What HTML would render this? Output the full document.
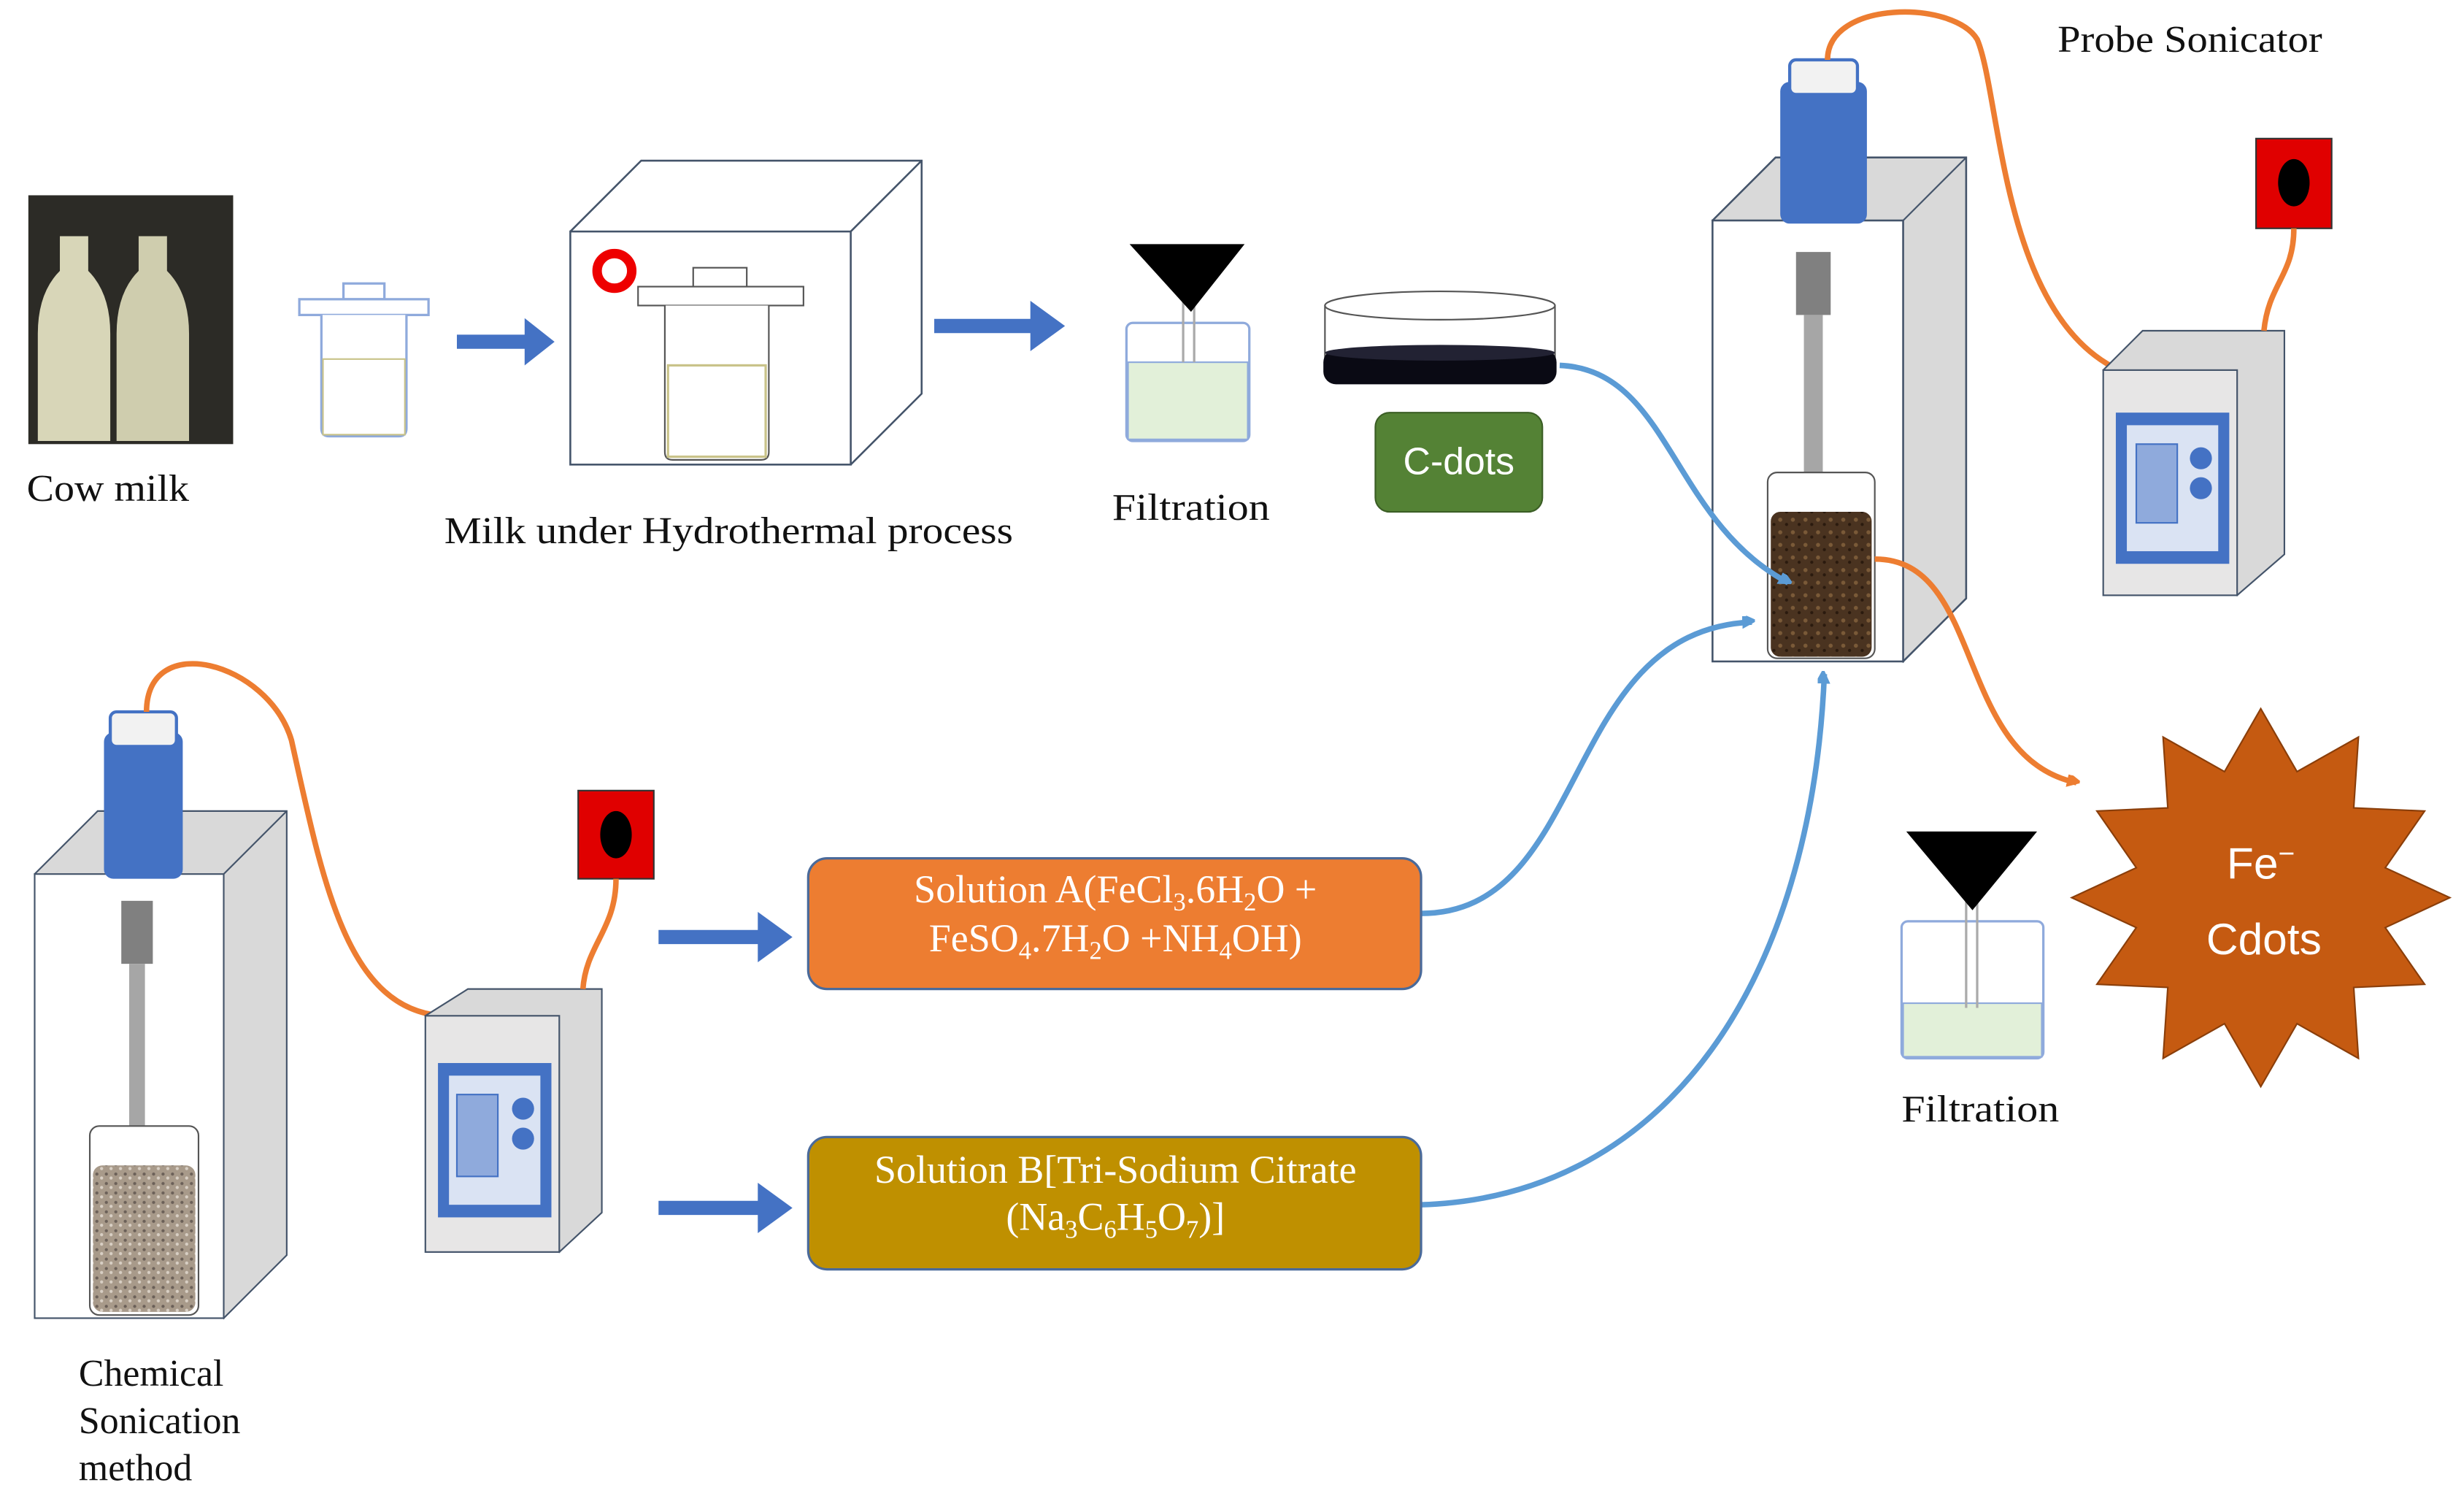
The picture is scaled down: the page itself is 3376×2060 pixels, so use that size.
<!DOCTYPE html>
<html><head><meta charset="utf-8"><style>html,body{margin:0;padding:0;background:#fff}svg{display:block}</style></head>
<body>
<svg width="3376" height="2060" viewBox="0 0 1564 955" preserveAspectRatio="none" xmlns="http://www.w3.org/2000/svg" font-family="Liberation Serif, serif">
<defs>
<marker id="ab" markerWidth="8" markerHeight="8" refX="6" refY="4" orient="auto" markerUnits="userSpaceOnUse"><path d="M0,0 L8,4 L0,8 z" fill="#5B9BD5" transform="scale(1.6) translate(-2,-2)"/></marker>
<marker id="ao" markerWidth="8" markerHeight="8" refX="6" refY="4" orient="auto" markerUnits="userSpaceOnUse"><path d="M0,0 L8,4 L0,8 z" fill="#ED7D31" transform="scale(1.6) translate(-2,-2)"/></marker>
<pattern id="grain" width="6" height="6" patternUnits="userSpaceOnUse"><rect width="6" height="6" fill="#a89a8a"/><circle cx="1.5" cy="1.5" r="1" fill="#6b6058"/><circle cx="4.5" cy="4" r="1" fill="#d8cfc4"/></pattern>
<pattern id="brown" width="8" height="8" patternUnits="userSpaceOnUse"><rect width="8" height="8" fill="#4a3320"/><circle cx="2" cy="2" r="1.3" fill="#7a5a38"/><circle cx="6" cy="5" r="1" fill="#2a1a0e"/></pattern>
</defs>

<!-- Cow milk photo -->
<rect x="18" y="124" width="130" height="158" fill="#2c2b26"/>
<path d="M38,150 h18 v22 q14,14 14,40 v68 h-46 v-68 q0,-26 14,-40 z" fill="#d8d6b8"/>
<path d="M88,150 h18 v22 q14,14 14,40 v68 h-46 v-68 q0,-26 14,-40 z" fill="#cfcdae"/>
<text x="17" y="318" font-size="24" fill="#111" textLength="103" lengthAdjust="spacingAndGlyphs">Cow milk</text>

<!-- small beaker -->
<rect x="218" y="180" width="26" height="10" fill="#fff" stroke="#8FAADC" stroke-width="1.5"/>
<rect x="190" y="190" width="82" height="10" fill="#fff" stroke="#8FAADC" stroke-width="1.5"/>
<path d="M204,200 v72 q0,5 5,5 h44 q5,0 5,-5 v-72" fill="#fff" stroke="#8FAADC" stroke-width="1.5"/>
<rect x="205" y="228" width="52" height="48" fill="#fff" stroke="#c9c38a"/>
<path d="M290,217 h45" stroke="#4472C4" stroke-width="9"/><path d="M333,202 L352,217 L333,232z" fill="#4472C4"/>

<!-- hydrothermal box -->
<path d="M362,147 L407,102 L585,102 L585,250 L540,295" fill="#fff" stroke="#44546A" stroke-width="1.2"/>
<path d="M540,147 L585,102" stroke="#44546A" stroke-width="1.2"/>
<rect x="362" y="147" width="178" height="148" fill="#fff" stroke="#44546A" stroke-width="1.2"/>
<circle cx="390" cy="172" r="11" fill="none" stroke="#e00" stroke-width="6"/>
<rect x="440" y="170" width="34" height="12" fill="#fff" stroke="#555"/>
<rect x="405" y="182" width="105" height="12" fill="#fff" stroke="#555"/>
<path d="M422,194 v93 q0,5 5,5 h56 q5,0 5,-5 v-93" fill="#fff" stroke="#555"/>
<rect x="424" y="232" width="62" height="58" fill="#fff" stroke="#c9c38a" stroke-width="1.5"/>
<text x="282" y="345" font-size="24" fill="#111" textLength="361" lengthAdjust="spacingAndGlyphs">Milk under Hydrothermal process</text>
<path d="M593,207 h62" stroke="#4472C4" stroke-width="9"/><path d="M654,191 L676,207 L654,223z" fill="#4472C4"/>

<!-- filtration 1 -->
<rect x="715" y="205" width="78" height="75" rx="4" fill="#fff" stroke="#8FAADC" stroke-width="1.5"/>
<rect x="716" y="230" width="76" height="49" fill="#E2F0D9" stroke="#8FAADC"/>
<path d="M751,190 v40 M758,190 v40" stroke="#aaa" stroke-width="1.5"/>
<path d="M717,155 L790,155 L756,198 z" fill="#000"/>
<text x="706" y="330" font-size="24" fill="#111" textLength="100" lengthAdjust="spacingAndGlyphs">Filtration</text>

<!-- petri -->
<ellipse cx="914" cy="194" rx="73" ry="9" fill="#fff" stroke="#555"/>
<path d="M841,194 v42 M987,194 v42" stroke="#555"/>
<rect x="840" y="222" width="148" height="22" rx="8" fill="#0a0a14"/>
<ellipse cx="914" cy="224" rx="73" ry="5" fill="#223"/>
<rect x="873" y="262" width="106" height="63" rx="9" fill="#548235" stroke="#3b5e25"/>
<text x="926" y="301" font-size="24" fill="#fff" text-anchor="middle" font-family="Liberation Sans, sans-serif">C-dots</text>

<!-- right big cube -->
<path d="M1087,140 L1127,100 L1248,100 L1248,380 L1208,420 z" fill="#D9D9D9" stroke="#44546A" stroke-width="1.2"/>
<path d="M1208,140 L1248,100" stroke="#44546A"/>
<rect x="1087" y="140" width="121" height="280" fill="#fff" stroke="#44546A" stroke-width="1.2"/>
<rect x="1130" y="52" width="55" height="90" rx="6" fill="#4472C4"/>
<rect x="1136" y="38" width="43" height="22" rx="4" fill="#f2f2f2" stroke="#4472C4" stroke-width="2"/>
<rect x="1140" y="160" width="22" height="40" fill="#808080"/>
<rect x="1145" y="200" width="12" height="110" fill="#a6a6a6"/>
<rect x="1122" y="300" width="68" height="118" rx="6" fill="#fff" stroke="#555"/>
<rect x="1124" y="325" width="64" height="92" rx="6" fill="url(#brown)"/>
<path d="M1160,38 C1160,0 1240,0 1255,25 C1270,60 1270,200 1345,235" fill="none" stroke="#ED7D31" stroke-width="3.5"/>
<text x="1306" y="33" font-size="24" fill="#111" textLength="168" lengthAdjust="spacingAndGlyphs">Probe Sonicator</text>

<!-- right controller -->
<path d="M1335,235 L1360,210 L1450,210 L1450,352 L1420,378z" fill="#D9D9D9" stroke="#44546A"/>
<rect x="1335" y="235" width="85" height="143" fill="#E7E6E6" stroke="#44546A"/>
<rect x="1343" y="262" width="72" height="96" fill="#4472C4"/>
<rect x="1350" y="270" width="58" height="80" fill="#DAE3F3"/>
<rect x="1356" y="282" width="26" height="50" fill="#8FAADC" stroke="#4472C4"/>
<circle cx="1397" cy="291" r="7" fill="#4472C4"/><circle cx="1397" cy="310" r="7" fill="#4472C4"/>
<rect x="1432" y="88" width="48" height="57" fill="#e00000" stroke="#333"/>
<ellipse cx="1456" cy="116" rx="10" ry="15" fill="#000"/>
<path d="M1456,145 C1456,175 1440,180 1437,210" fill="none" stroke="#ED7D31" stroke-width="3.5"/>

<!-- connectors -->
<path d="M990,232 C1060,235 1060,330 1135,370" fill="none" stroke="#5B9BD5" stroke-width="3.5" marker-end="url(#ab)"/>
<path d="M1190,355 C1260,355 1240,480 1318,497" fill="none" stroke="#ED7D31" stroke-width="3.5" marker-end="url(#ao)"/>
<path d="M902,580 C1010,580 990,400 1112,395" fill="none" stroke="#5B9BD5" stroke-width="3.5" marker-end="url(#ab)"/>
<path d="M902,765 C1060,760 1150,620 1158,428" fill="none" stroke="#5B9BD5" stroke-width="3.5" marker-end="url(#ab)"/>

<!-- star -->
<polygon fill="#C55A11" stroke="#8a3e0a" points="1435,450 1458,490 1497,468 1494,513 1539,515 1514,551 1555,570 1514,589 1539,625 1494,627 1497,672 1458,650 1435,690 1412,650 1373,672 1376,627 1331,625 1356,589 1315,570 1356,551 1331,515 1376,513 1373,468 1412,490"/>
<text x="1435" y="558" font-size="28" fill="#fff" text-anchor="middle" font-family="Liberation Sans, sans-serif">Fe<tspan font-size="18" dy="-10">−</tspan></text>
<text x="1437" y="606" font-size="28" fill="#fff" text-anchor="middle" font-family="Liberation Sans, sans-serif">Cdots</text>

<!-- filtration 2 -->
<rect x="1207" y="585" width="90" height="87" rx="4" fill="#fff" stroke="#8FAADC" stroke-width="1.5"/>
<rect x="1208" y="637" width="88" height="34" fill="#E2F0D9" stroke="#8FAADC"/>
<path d="M1248,570 v70 M1255,570 v70" stroke="#aaa" stroke-width="1.5"/>
<path d="M1210,528 L1293,528 L1252,578 z" fill="#000"/>
<text x="1207" y="712" font-size="24" fill="#111" textLength="100" lengthAdjust="spacingAndGlyphs">Filtration</text>

<!-- left cube -->
<path d="M22,555 L62,515 L182,515 L182,797 L142,837z" fill="#D9D9D9" stroke="#44546A"/>
<path d="M142,555 L182,515" stroke="#44546A"/>
<rect x="22" y="555" width="120" height="282" fill="#fff" stroke="#44546A"/>
<rect x="66" y="465" width="50" height="93" rx="6" fill="#4472C4"/>
<rect x="70" y="452" width="42" height="22" rx="4" fill="#f2f2f2" stroke="#4472C4" stroke-width="2"/>
<rect x="77" y="572" width="20" height="40" fill="#808080"/>
<rect x="82" y="612" width="10" height="110" fill="#a6a6a6"/>
<rect x="57" y="715" width="69" height="120" rx="6" fill="#fff" stroke="#555"/>
<rect x="59" y="740" width="65" height="93" rx="6" fill="url(#grain)"/>
<path d="M93,452 C93,400 170,420 185,470 C205,560 220,640 280,645" fill="none" stroke="#ED7D31" stroke-width="3.5"/>
<text font-size="24" fill="#111"><tspan x="50" y="880">Chemical</tspan><tspan x="50" y="910">Sonication</tspan><tspan x="50" y="940">method</tspan></text>

<!-- left controller -->
<path d="M270,645 L297,628 L382,628 L382,770 L355,795z" fill="#D9D9D9" stroke="#44546A"/>
<rect x="270" y="645" width="85" height="150" fill="#E7E6E6" stroke="#44546A"/>
<rect x="278" y="675" width="72" height="98" fill="#4472C4"/>
<rect x="285" y="683" width="58" height="82" fill="#DAE3F3"/>
<rect x="290" y="695" width="26" height="52" fill="#8FAADC" stroke="#4472C4"/>
<circle cx="332" cy="704" r="7" fill="#4472C4"/><circle cx="332" cy="723" r="7" fill="#4472C4"/>
<rect x="367" y="502" width="48" height="56" fill="#e00000" stroke="#333"/>
<ellipse cx="391" cy="530" rx="10" ry="15" fill="#000"/>
<path d="M391,558 C391,590 372,600 370,628" fill="none" stroke="#ED7D31" stroke-width="3.5"/>

<path d="M418,595 h65" stroke="#4472C4" stroke-width="9"/><path d="M481,579 L503,595 L481,611z" fill="#4472C4"/>
<path d="M418,767 h65" stroke="#4472C4" stroke-width="9"/><path d="M481,751 L503,767 L481,783z" fill="#4472C4"/>

<!-- solutions -->
<rect x="513" y="545" width="389" height="83" rx="12" fill="#ED7D31" stroke="#4a6a9a" stroke-width="1.5"/>
<text x="708" y="573" font-size="25" fill="#fff" text-anchor="middle">Solution A(FeCl<tspan font-size="16" dy="5">3</tspan><tspan dy="-5">.6H</tspan><tspan font-size="16" dy="5">2</tspan><tspan dy="-5">O +</tspan></text>
<text x="708" y="604" font-size="25" fill="#fff" text-anchor="middle">FeSO<tspan font-size="16" dy="5">4</tspan><tspan dy="-5">.7H</tspan><tspan font-size="16" dy="5">2</tspan><tspan dy="-5">O +NH</tspan><tspan font-size="16" dy="5">4</tspan><tspan dy="-5">OH)</tspan></text>
<rect x="513" y="722" width="389" height="84" rx="12" fill="#BF9000" stroke="#4a6a9a" stroke-width="1.5"/>
<text x="708" y="751" font-size="25" fill="#fff" text-anchor="middle">Solution B[Tri-Sodium Citrate</text>
<text x="708" y="781" font-size="25" fill="#fff" text-anchor="middle">(Na<tspan font-size="16" dy="5">3</tspan><tspan dy="-5">C</tspan><tspan font-size="16" dy="5">6</tspan><tspan dy="-5">H</tspan><tspan font-size="16" dy="5">5</tspan><tspan dy="-5">O</tspan><tspan font-size="16" dy="5">7</tspan><tspan dy="-5">)]</tspan></text>
</svg>
</body></html>
